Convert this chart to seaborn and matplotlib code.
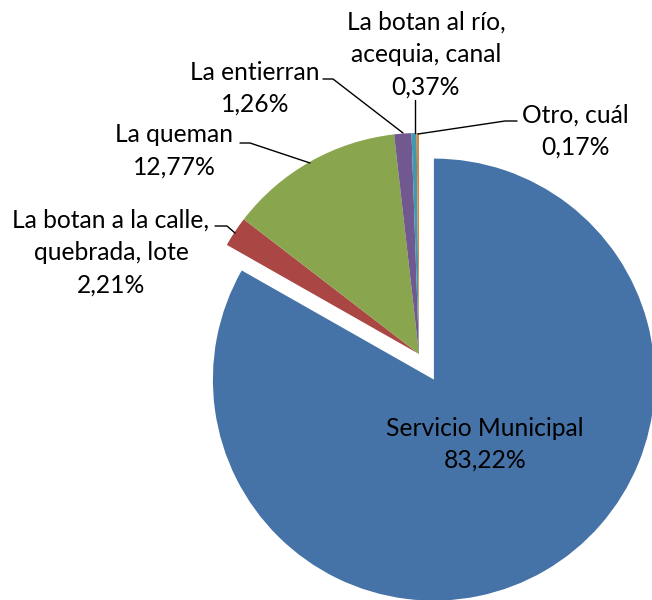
import matplotlib
matplotlib.use("Agg")
import matplotlib.pyplot as plt
import seaborn as sns

# ---- data ----
categories = ["Servicio Municipal", "La botan a la calle,\nquebrada, lote", "La queman",
              "La entierran", "La botan al río,\nacequia, canal", "Otro, cuál"]
values = [83.22, 2.21, 12.77, 1.26, 0.37, 0.17]
colors = ["#4572A7", "#AA4643", "#89A54E", "#71588F", "#4198AF", "#DB843D"]

sns.set_theme(style="white")
plt.rcParams['font.family'] = ['Lato', 'DejaVu Sans']

W, H = 652, 600
fig = plt.figure(figsize=(W / 100, H / 100), dpi=100)

# pie axes (center and radius in pixels)
cx, cy, r = 419, 354, 221
ax = fig.add_axes([(cx - r) / W, (H - cy - r) / H, 2 * r / W, 2 * r / H])
explode = [0.134, 0, 0, 0, 0, 0]
wedges, _ = ax.pie(values, colors=colors, startangle=90, counterclock=False,
                   explode=explode, wedgeprops=dict(linewidth=0))
for w in wedges:
    w.set_clip_on(False)
ax.set_xlim(-1, 1)
ax.set_ylim(-1, 1)
ax.axis("off")

# overlay axes in pixel coordinates for labels
ov = fig.add_axes([0, 0, 1, 1])
ov.set_xlim(0, W)
ov.set_ylim(H, 0)
ov.axis("off")
ov.patch.set_alpha(0)

label_pos = [(485, 428), (111, 220), (174, 135), (255, 72), (426, 22), (575, 115)]
line_gap = 32.5
fs = 17.7
for cat, v, (x, y) in zip(categories, values, label_pos):
    lines = cat.split("\n") + [f"{v:.2f}".replace(".", ",") + "%"]
    for i, ln in enumerate(lines):
        ov.text(x, y + i * line_gap, ln, ha="center", va="center", fontsize=fs,
                color="black")

leaders = [
    [(215, 226), (227, 226), (235, 233)],
    [(240, 143), (250, 143), (310, 163)],
    [(323, 79), (333, 79), (403, 133)],
    [(415, 100), (415, 133)],
    [(517, 121), (505, 121), (418, 134)],
]
for pts in leaders:
    xs, ys = zip(*pts)
    ov.plot(xs, ys, color="black", lw=1.0)

fig.savefig("out.png", dpi=100)
